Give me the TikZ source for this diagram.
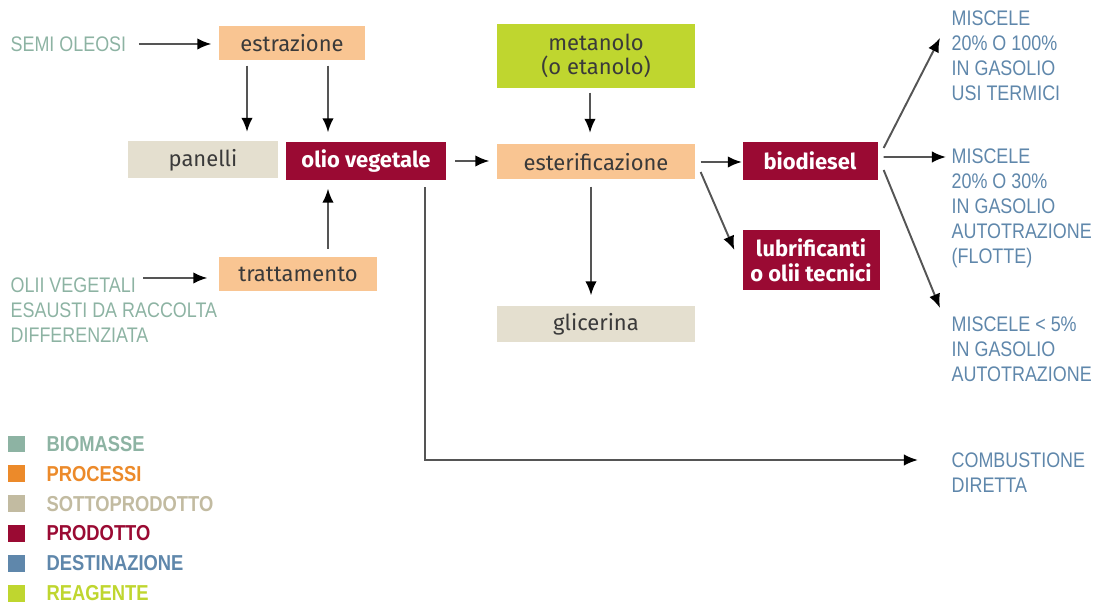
\documentclass[tikz,border=0pt]{standalone}
\usepackage{fontspec}
\setmainfont{Fira Sans}
\newfontfamily\dinfont[FakeStretch=0.85]{Liberation Sans}
\usetikzlibrary{arrows.meta,positioning,calc}
\definecolor{biomassa}{HTML}{8DB3A3}
\definecolor{processo}{HTML}{F9C592}
\definecolor{processoleg}{HTML}{EC8A2A}
\definecolor{sottoprod}{HTML}{E4DFCF}
\definecolor{sottoprodleg}{HTML}{C2BBA1}
\definecolor{prodotto}{HTML}{9A0A33}
\definecolor{destinazione}{HTML}{5F87AB}
\definecolor{reagente}{HTML}{BFD62F}
\definecolor{testobox}{HTML}{3A3A3A}
\definecolor{linea}{HTML}{555555}
\tikzset{every picture/.style={line width=0.75pt}}

\begin{document}
\begin{tikzpicture}[x=0.02cm, y=-0.02cm,
    box/.style={inner sep=0pt, align=center, text=testobox, font=\fontsize{12.5}{14}\selectfont},
    proc/.style={box, fill=processo},
    sotto/.style={box, fill=sottoprod},
    prod/.style={box, fill=prodotto, text=white, font=\fontsize{12.5}{14}\selectfont\bfseries},
    reag/.style={box, fill=reagente},
    etich/.style={inner sep=0pt, align=left, font=\dinfont\fontsize{12}{14.2}\selectfont},
    legtesto/.style={inner sep=0pt, anchor=west, font=\dinfont\bfseries\fontsize{12.3}{14}\selectfont},
    freccia/.style={draw=linea, line width=1.1pt, -{Latex[length=8pt,width=6.5pt,color=black]}}]
    \useasboundingbox (0,0) rectangle (1098,607);

    % riquadri della filiera
    \node[proc, minimum width=2.92cm, minimum height=0.68cm] (estr) at (292,43) {estrazione};
    \node[sotto, minimum width=3.02cm, minimum height=0.74cm] (pan) at (203,160) {panelli};
    \node[prod, minimum width=3.22cm, minimum height=0.76cm] (olio) at (366,161) {olio vegetale};
    \node[proc, minimum width=3.16cm, minimum height=0.70cm] (tratt) at (298,274) {trattamento};
    \node[reag, minimum width=3.96cm, minimum height=1.28cm] (met) at (596,56) {metanolo\\(o etanolo)};
    \node[proc, minimum width=3.96cm, minimum height=0.70cm] (ester) at (596,162) {esterificazione};
    \node[prod, minimum width=2.70cm, minimum height=0.76cm] (bio) at (810,161) {biodiesel};
    \node[prod, minimum width=2.74cm, minimum height=1.22cm] (lubr) at (811,260) {lubrificanti\\o olii tecnici};
    \node[sotto, minimum width=3.96cm, minimum height=0.74cm] (glic) at (596,324) {glicerina};

    % biomasse
    \node[etich, text=biomassa, anchor=west] (semi) at (10,44) {SEMI OLEOSI};
    \node[etich, text=biomassa, anchor=north west] (olii) at (10,277) {OLII VEGETALI\\ESAUSTI DA RACCOLTA\\DIFFERENZIATA};

    % destinazioni
    \node[etich, text=destinazione, anchor=north west] (misc1) at (951,10) {MISCELE\\20\% O 100\%\\IN GASOLIO\\USI TERMICI};
    \node[etich, text=destinazione, anchor=north west] (misc2) at (951,148) {MISCELE\\20\% O 30\%\\IN GASOLIO\\AUTOTRAZIONE\\(FLOTTE)};
    \node[etich, text=destinazione, anchor=north west] (misc3) at (951,316) {MISCELE < 5\%\\IN GASOLIO\\AUTOTRAZIONE};
    \node[etich, text=destinazione, anchor=north west] (comb) at (951,452) {COMBUSTIONE\\DIRETTA};

    % punti di arrivo delle frecce
    \coordinate (olii-out) at (143,278);
    \coordinate (m1) at (940,38);
    \coordinate (m2) at (946,157);
    \coordinate (m3) at (940,308);
    \coordinate (comb-in) at (918,460);

    % frecce
    \draw[freccia, shorten <=0.24cm, shorten >=0.14cm] (semi.east) -- (semi.east -| estr.west);
    \draw[freccia, shorten <=0.1cm, shorten >=0.18cm] ([xshift=-0.9cm]estr.south) -- ([xshift=-0.9cm]estr.south |- pan.north);
    \draw[freccia, shorten <=0.1cm, shorten >=0.18cm] ([xshift=0.72cm]estr.south) -- ([xshift=0.72cm]estr.south |- olio.north);
    \draw[freccia, shorten >=0.22cm] (olii-out) -- (olii-out -| tratt.west);
    \draw[freccia, shorten <=0.14cm, shorten >=0.16cm] ([xshift=0.6cm]tratt.north) -- ([xshift=0.6cm]tratt.north |- olio.south);
    \draw[freccia, shorten <=0.16cm, shorten >=0.14cm] (olio.east) -- (olio.east -| ester.west);
    \draw[freccia, shorten <=0.08cm, shorten >=0.22cm] ([xshift=-0.12cm]met.south) -- ([xshift=-0.12cm]met.south |- ester.north);
    \draw[freccia, shorten <=0.13cm, shorten >=0.19cm] ([xshift=-0.1cm]ester.south) -- ([xshift=-0.1cm]ester.south |- glic.north);
    \draw[freccia, shorten <=0.1cm] (ester.east) -- (ester.east -| bio.west);
    \draw[freccia] ([shift={(0.1cm,-0.2cm)}]ester.east) -- ([shift={(-0.15cm,0.2cm)}]lubr.west);
    \draw[freccia] ([shift={(0.11cm,0.26cm)}]bio.east) -- (m1);
    \draw[freccia] ([shift={(0.11cm,0.08cm)}]bio.east) -- (m2);
    \draw[freccia] ([shift={(0.11cm,-0.18cm)}]bio.east) -- (m3);
    \draw[freccia, shorten <=0.13cm] ([xshift=1.18cm]olio.south) |- (comb-in);

    % legenda
    \foreach \c/\t [count=\i] in {biomassa/BIOMASSE, processoleg/PROCESSI, sottoprodleg/SOTTOPRODOTTO, prodotto/PRODOTTO, destinazione/DESTINAZIONE, reagente/REAGENTE} {
        \node[fill=\c, minimum size=0.34cm, inner sep=0pt] (leg\i) at (16.5,{414.2+29.8*\i}) {};
        \node[legtesto, text=\c] (legt\i) at (46,{414.2+29.8*\i}) {\t};
    }
\end{tikzpicture}
\end{document}
